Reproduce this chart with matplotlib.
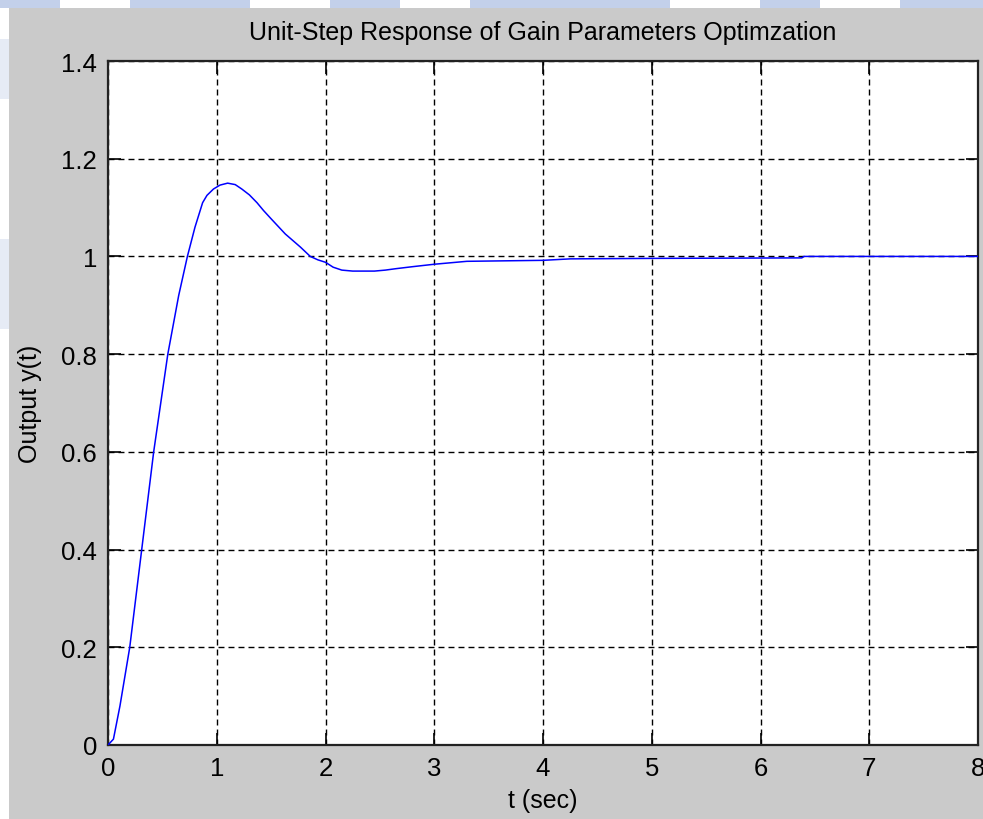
import matplotlib
matplotlib.use("Agg")
import matplotlib.pyplot as plt
from matplotlib.patches import Rectangle

plt.rcParams['font.family'] = ['Liberation Sans', 'DejaVu Sans']
plt.rcParams['lines.scale_dashes'] = False

# data
t = [0, 0.05, 0.11, 0.20, 0.31, 0.42, 0.55, 0.65, 0.73, 0.80, 0.87, 0.91, 0.97,
     1.03, 1.10, 1.17, 1.23, 1.30, 1.37, 1.43, 1.50, 1.63, 1.77, 1.86, 1.93, 2.0,
     2.07, 2.15, 2.25, 2.35, 2.45, 2.55, 2.65, 2.8,
     3.0, 3.3, 4.0, 4.25, 5.0, 6.38, 6.4, 8.0]
y = [0, 0.012, 0.08, 0.20, 0.40, 0.60, 0.80, 0.92, 1.00, 1.06, 1.11, 1.125, 1.138,
     1.146, 1.150, 1.147, 1.138, 1.126, 1.11, 1.094, 1.077, 1.046, 1.019, 1.00, 0.993, 0.988,
     0.978, 0.972, 0.970, 0.970, 0.970, 0.972, 0.975, 0.979,
     0.984, 0.990, 0.992, 0.995, 0.996, 0.997, 1.0, 1.0]
xticks = [0, 1, 2, 3, 4, 5, 6, 7, 8]
yticks = [0, 0.2, 0.4, 0.6, 0.8, 1.0, 1.2, 1.4]
ytick_labels = ['0', '0.2', '0.4', '0.6', '0.8', '1', '1.2', '1.4']

W, H = 983, 820
fig = plt.figure(figsize=(W / 100, H / 100), dpi=100)
fig.patch.set_facecolor('white')
# gray MATLAB figure window
fig.add_artist(Rectangle((9 / W, 0), 1 - 9 / W, 1 - 9 / H, transform=fig.transFigure,
                         facecolor='#cacaca', edgecolor='none', zorder=0))
# faint watermark bits in the margins
for x0, w in [(0, 60), (130, 120), (330, 70), (470, 200), (760, 60), (900, 83)]:
    fig.add_artist(Rectangle((x0 / W, 1 - 9 / H), w / W, 9 / H, transform=fig.transFigure,
                             facecolor='#c3d0ea', edgecolor='none', zorder=0))
for y0, h in [(40, 60), (240, 90)]:
    fig.add_artist(Rectangle((0, (H - y0 - h) / H), 9 / W, h / H, transform=fig.transFigure,
                             facecolor='#e6ebf5', edgecolor='none', zorder=0))

ax = fig.add_axes([108 / W, (H - 746) / H, 870 / W, 684 / H])
ax.set_facecolor('white')
ax.plot(t, y, color='#0000ff', lw=1.1, zorder=3)
ax.set_xlim(0, 8)
ax.set_ylim(0, 1.4)
ax.set_xticks(xticks)
ax.set_yticks(yticks)
ax.set_yticklabels(ytick_labels)
ax.grid(True, color='black', linestyle=(0, (4.3, 2.9)), linewidth=1.0)
ax.tick_params(direction='in', length=9, width=1.2, top=True, right=True,
               labelsize=18.5, colors='black', pad=8)
for s in ax.spines.values():
    s.set_linewidth(1.6)
    s.set_color('#222222')
ax.set_title('Unit-Step Response of Gain Parameters Optimzation', fontsize=18, pad=16)
ax.set_xlabel('t (sec)', fontsize=18, labelpad=6)
ax.set_ylabel('Output y(t)', fontsize=18, labelpad=14)

fig.savefig('out.png', dpi=100, facecolor=fig.get_facecolor())
